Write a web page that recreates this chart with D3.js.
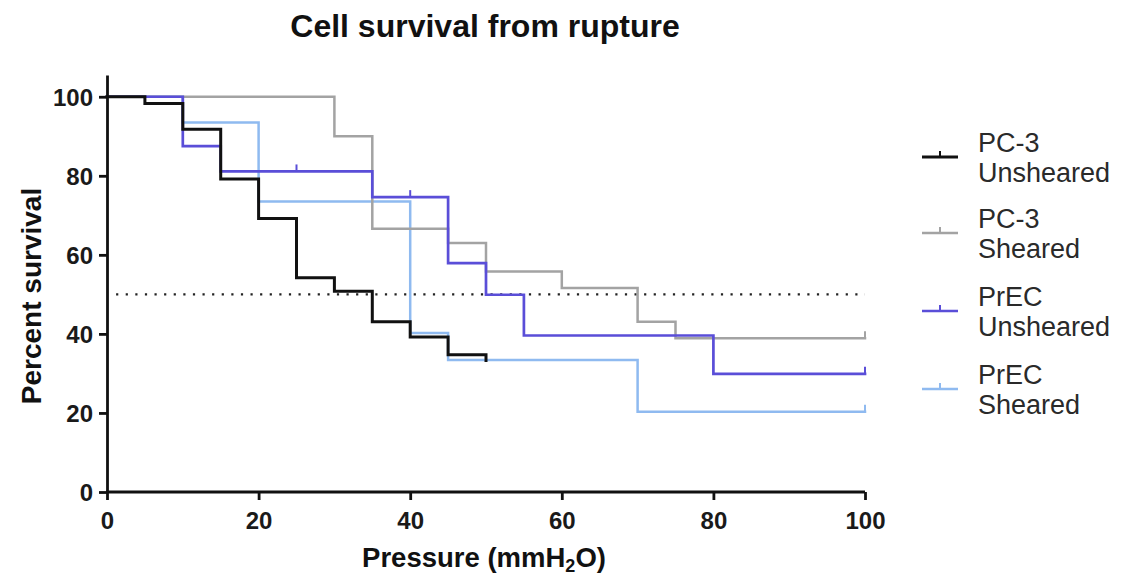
<!DOCTYPE html>
<html><head><meta charset="utf-8">
<script src="https://cdn.jsdelivr.net/npm/d3@7"></script>
<style>
body{margin:0;background:#fff;}
svg{display:block;}
text{font-family:"Liberation Sans",Arial,Helvetica,sans-serif;}
</style></head>
<body>
<svg id="chart" width="1125" height="579"></svg>
<script>
// ---- data ----
const seriesNames = ["PC-3 Unsheared","PC-3 Sheared","PrEC Unsheared","PrEC Sheared"];
const legendLine1 = ["PC-3","PC-3","PrEC","PrEC"];
const legendLine2 = ["Unsheared","Sheared","Unsheared","Sheared"];

// step times (pressure) and survival after each step
const pc3UnshearedX = [0,5,10,15,20,25,30,35,40,45,50];
const pc3UnshearedY = [100,98.3,91.8,79.2,69.2,54.2,50.8,43.1,39.2,34.7,33.3];
const pc3UnshearedEnd = 50;
const pc3UnshearedCensor = [];

const pc3ShearedX = [0,30,35,45,50,60,70,75];
const pc3ShearedY = [100,90,66.6,63,55.8,51.6,43.1,38.9];
const pc3ShearedEnd = 100;
const pc3ShearedCensor = [100];

const precUnshearedX = [0,10,15,35,45,50,55,80];
const precUnshearedY = [100,87.5,81.1,74.6,57.9,49.9,39.6,29.9];
const precUnshearedEnd = 100;
const precUnshearedCensor = [25,40,100];

const precShearedX = [0,10,20,40,45,70];
const precShearedY = [100,93.5,73.5,40.2,33.4,20.3];
const precShearedEnd = 100;
const precShearedCensor = [100];

const xTicks = [0,20,40,60,80,100];
const yTicks = [0,20,40,60,80,100];
const medianLine = 50;

const colors = ["#111111","#a3a3a3","#5a4ed8","#8fbaf0"];
const widths = [3,2.5,2.7,2.5];

const series = [
  {x:pc3UnshearedX,y:pc3UnshearedY,end:pc3UnshearedEnd,censor:pc3UnshearedCensor},
  {x:pc3ShearedX,y:pc3ShearedY,end:pc3ShearedEnd,censor:pc3ShearedCensor},
  {x:precUnshearedX,y:precUnshearedY,end:precUnshearedEnd,censor:precUnshearedCensor},
  {x:precShearedX,y:precShearedY,end:precShearedEnd,censor:precShearedCensor}
];

// ---- layout ----
const svg = d3.select("#chart");
const x = d3.scaleLinear().domain([0,100]).range([107,865]);
const y = d3.scaleLinear().domain([0,105.5]).range([492,75]);

// title
svg.append("text").attr("x",485).attr("y",37).attr("text-anchor","middle")
  .attr("font-size",32).attr("font-weight","bold").attr("fill","#111")
  .text("Cell survival from rupture");

// median dotted line
svg.append("line")
  .attr("x1",x(1.2)).attr("x2",x(100)).attr("y1",y(medianLine)).attr("y2",y(medianLine))
  .attr("stroke","#222").attr("stroke-width",2.2).attr("stroke-dasharray","2.2,7.4");

// curves (draw light ones first so black is on top)
const order = [3,1,2,0];
const line = d3.line().x(d=>x(d[0])).y(d=>y(d[1])).curve(d3.curveStepAfter);
order.forEach(i=>{
  const s = series[i];
  const pts = s.x.map((v,j)=>[v,s.y[j]]);
  pts.push([s.end, s.y[s.y.length-1]]);
  svg.append("path").attr("d",line(pts)).attr("fill","none")
    .attr("stroke",colors[i]).attr("stroke-width",widths[i])
    .attr("stroke-linejoin","miter").attr("stroke-linecap","square");
  // censor ticks
  s.censor.forEach(c=>{
    let k = d3.bisectRight(s.x,c)-1;
    const yy = s.y[k];
    svg.append("line").attr("x1",x(c)).attr("x2",x(c))
      .attr("y1",y(yy)).attr("y2",y(yy)-7)
      .attr("stroke",colors[i]).attr("stroke-width",2);
  });
});

// axes
const tickStyle = g=>{
  g.selectAll("path").attr("stroke","#111").attr("stroke-width",2.8);
  g.selectAll("line").attr("stroke","#111").attr("stroke-width",2.8);
  g.selectAll("text").attr("font-size",24).attr("font-weight","bold")
    .attr("fill","#1a1a1a").attr("font-family","'Liberation Sans',Arial,sans-serif");
};
const xAxis = svg.append("g").attr("transform","translate(0,492)")
  .call(d3.axisBottom(x).tickValues(xTicks).tickSize(8).tickSizeOuter(0).tickPadding(12).tickFormat(d3.format("d")));
tickStyle(xAxis);
xAxis.select(".domain").attr("d",`M${x(0)-1},0H${x(100)}`);

const yAxis = svg.append("g").attr("transform","translate(107,0)")
  .call(d3.axisLeft(y).tickValues(yTicks).tickSize(8).tickSizeOuter(0).tickPadding(6).tickFormat(d3.format("d")));
tickStyle(yAxis);
yAxis.selectAll(".tick text").attr("dy","0.36em");

// axis titles
svg.append("text").attr("transform","translate(41,296) rotate(-90)")
  .attr("text-anchor","middle").attr("font-size",28).attr("font-weight","bold").attr("fill","#111")
  .text("Percent survival");

const xt = svg.append("text").attr("x",484).attr("y",567).attr("text-anchor","middle")
  .attr("font-size",27.5).attr("font-weight","bold").attr("fill","#111");
xt.append("tspan").text("Pressure (mmH");
xt.append("tspan").attr("font-size",18).attr("dy",5).text("2");
xt.append("tspan").attr("dy",-5).text("O)");

// legend
const legY = [157,233,311,389];
seriesNames.forEach((name,i)=>{
  const g = svg.append("g").attr("class","legend-item").attr("data-name",name);
  g.append("line").attr("x1",922).attr("x2",958).attr("y1",legY[i]).attr("y2",legY[i])
    .attr("stroke",colors[i]).attr("stroke-width",widths[i]);
  g.append("line").attr("x1",940).attr("x2",940).attr("y1",legY[i]).attr("y2",legY[i]-6)
    .attr("stroke",colors[i]).attr("stroke-width",2);
  g.append("text").attr("x",978).attr("y",legY[i]-5).attr("font-size",27).attr("fill","#2a2a2a")
    .text(legendLine1[i]);
  g.append("text").attr("x",978).attr("y",legY[i]+25).attr("font-size",27).attr("fill","#2a2a2a")
    .text(legendLine2[i]);
});
</script>
</body></html>
